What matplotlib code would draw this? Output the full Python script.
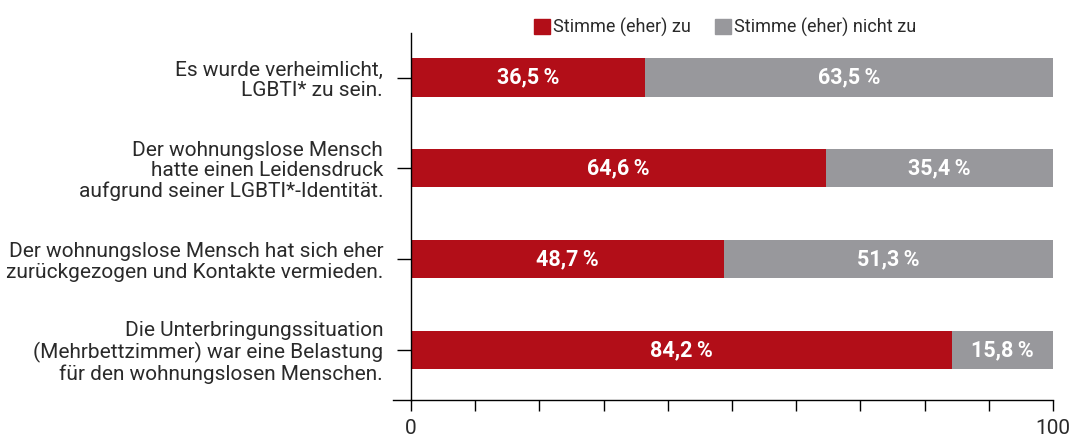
import numpy as np
import matplotlib.pyplot as plt
from matplotlib.patches import Patch

plt.rcParams['font.family'] = ['Roboto', 'DejaVu Sans']

# Data
categories = ['Es wurde verheimlicht,\nLGBTI* zu sein.',
              'Der wohnungslose Mensch\nhatte einen Leidensdruck\naufgrund seiner LGBTI*-Identität.',
              'Der wohnungslose Mensch hat sich eher\nzurückgezogen und Kontakte vermieden.',
              'Die Unterbringungssituation\n(Mehrbettzimmer) war eine Belastung\nfür den wohnungslosen Menschen.']
agree = [36.5, 64.6, 48.7, 84.2]
disagree = [63.5, 35.4, 51.3, 15.8]
series_names = ['Stimme (eher) zu', 'Stimme (eher) nicht zu']

red = '#B20E18'
grey = '#98989C'
txt = '#2a2a2a'

fig = plt.figure(figsize=(10.79, 4.41), dpi=100)
ax = fig.add_axes([411/1079, 1-400/441, (1053-411)/1079, (400-33)/441])

y = np.arange(len(categories))
h = 0.42
ax.barh(y, agree, height=h, color=red)
ax.barh(y, disagree, left=agree, height=h, color=grey)

# value labels in the middle of each segment
for i in range(len(categories)):
    ax.text(agree[i]/2, y[i], ('%.1f' % agree[i]).replace('.', ',') + '\u2009%',
            ha='center', va='center', color='white', fontsize=15.5, fontweight='bold')
    ax.text(agree[i] + disagree[i]/2, y[i], ('%.1f' % disagree[i]).replace('.', ',') + '\u2009%',
            ha='center', va='center', color='white', fontsize=15.5, fontweight='bold')

ax.set_ylim(3.55, -0.49)
ax.set_xlim(0, 100)
ax.set_yticks(y)
ax.set_yticklabels(categories, fontsize=15, fontweight='normal', color=txt,
                   linespacing=1.1)
ax.set_xticks(np.arange(0, 101, 10))
ax.set_xticklabels(['0'] + ['']*9 + ['100'], fontsize=15, color=txt)

for s in ['top', 'right']:
    ax.spines[s].set_visible(False)
ax.spines['left'].set_linewidth(1)
ax.spines['bottom'].set_linewidth(1)
ax.tick_params(axis='y', length=10, width=1, pad=10)
ax.tick_params(axis='x', length=8, width=1, pad=6)
# bottom axis line runs a bit past the left spine
ax.plot([-2.8, 0], [3.55, 3.55], color='black', lw=1, clip_on=False)

handles = [Patch(color=red), Patch(color=grey)]
fig.legend(handles, series_names, loc='center', bbox_to_anchor=(725/1079, 1-27/441),
           ncol=2, frameon=False, handlelength=0.9, handleheight=0.9,
           handletextpad=0.15, columnspacing=1.3, prop={'size': 13})
for t in fig.legends[0].get_texts():
    t.set_color(txt)

fig.savefig('out.png', dpi=100)
